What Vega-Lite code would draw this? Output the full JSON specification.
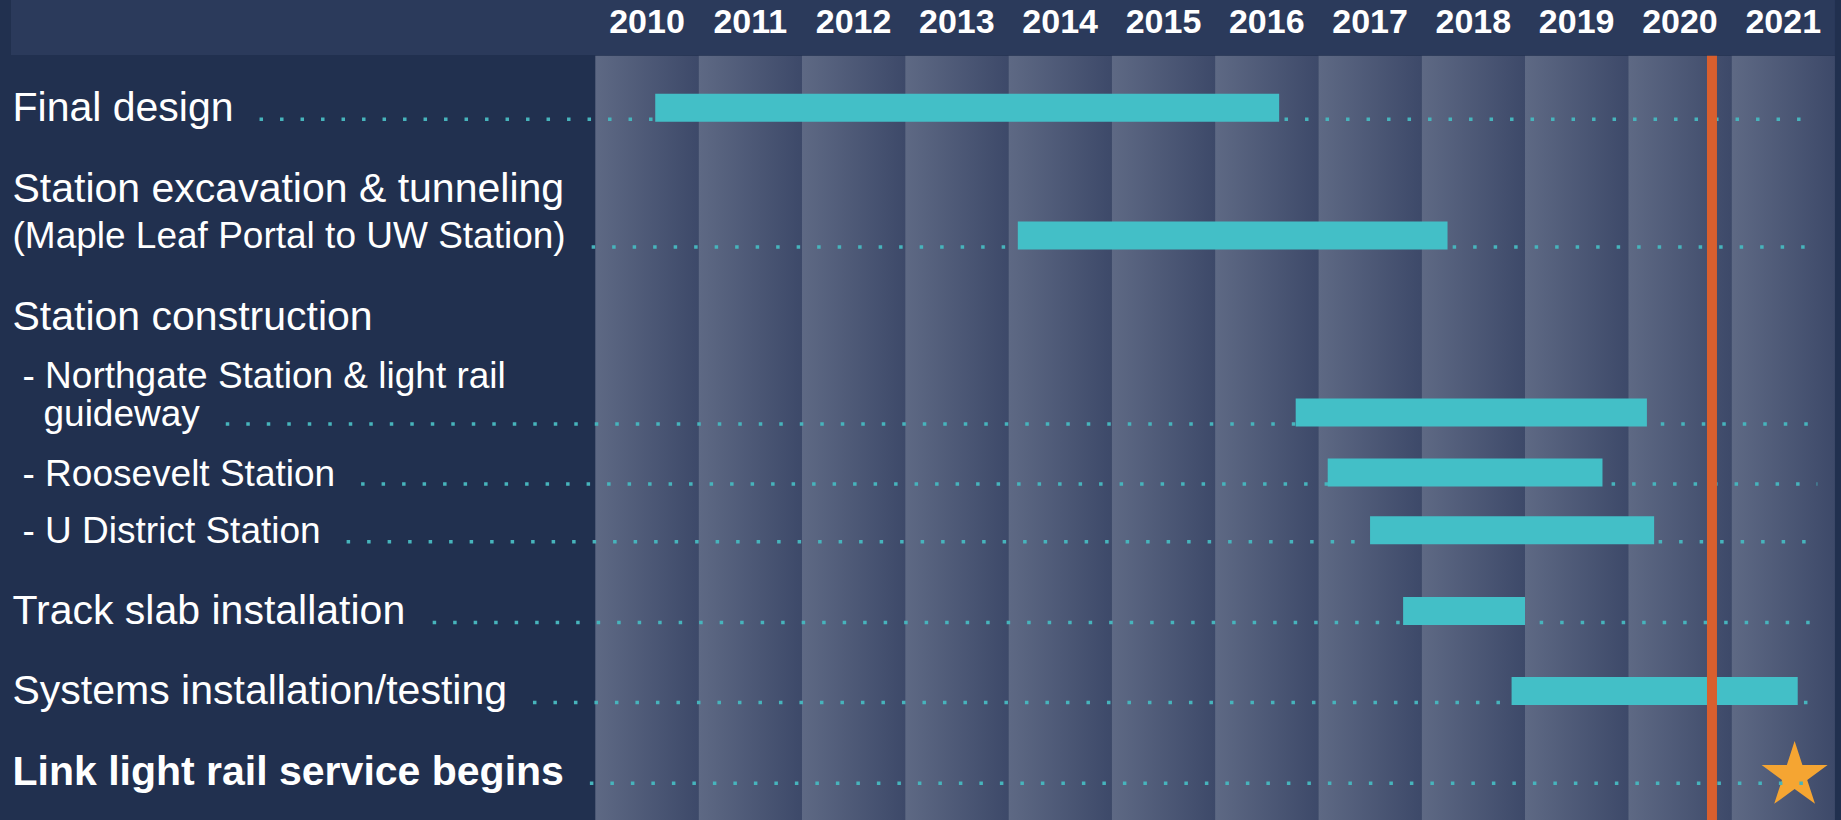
{
  "$schema": "https://vega.github.io/schema/vega-lite/v6.json",
  "width": 1841,
  "height": 820,
  "padding": 0,
  "autosize": {"type": "none"},
  "background": "#21304f",
  "config": {"view": {"stroke": null}},
  "datasets": {
    "years": [
      {"year": "2010", "start": 2010, "end": 2011},
      {"year": "2011", "start": 2011, "end": 2012},
      {"year": "2012", "start": 2012, "end": 2013},
      {"year": "2013", "start": 2013, "end": 2014},
      {"year": "2014", "start": 2014, "end": 2015},
      {"year": "2015", "start": 2015, "end": 2016},
      {"year": "2016", "start": 2016, "end": 2017},
      {"year": "2017", "start": 2017, "end": 2018},
      {"year": "2018", "start": 2018, "end": 2019},
      {"year": "2019", "start": 2019, "end": 2020},
      {"year": "2020", "start": 2020, "end": 2021},
      {"year": "2021", "start": 2021, "end": 2022}
    ],
    "labels": [
      {"label": "Final design", "row": 1.51, "kind": "title", "leader": true},
      {"label": "Station excavation & tunneling", "row": 2.525, "kind": "title", "leader": false},
      {"label": "(Maple Leaf Portal to UW Station)", "row": 3.105, "kind": "note", "leader": true},
      {"label": "Station construction", "row": 4.125, "kind": "title", "leader": false},
      {"label": "- Northgate Station & light rail", "row": 4.85, "kind": "item", "leader": false},
      {"label": "guideway", "row": 5.32, "kind": "cont", "leader": true},
      {"label": "- Roosevelt Station", "row": 6.07, "kind": "item", "leader": true},
      {"label": "- U District Station", "row": 6.79, "kind": "item", "leader": true},
      {"label": "Track slab installation", "row": 7.8, "kind": "title", "leader": true},
      {"label": "Systems installation/testing", "row": 8.8, "kind": "title", "leader": true},
      {"label": "Link light rail service begins", "row": 9.81, "kind": "title", "leader": true}
    ],
    "tasks": [
      {"task": "Final design", "start": 2010.58, "end": 2016.62, "row": 1.51},
      {"task": "Station excavation & tunneling", "start": 2014.09, "end": 2018.25, "row": 3.105},
      {"task": "Northgate Station & light rail guideway", "start": 2016.78, "end": 2020.18, "row": 5.32},
      {"task": "Roosevelt Station", "start": 2017.09, "end": 2019.75, "row": 6.07},
      {"task": "U District Station", "start": 2017.5, "end": 2020.25, "row": 6.79},
      {"task": "Track slab installation", "start": 2017.82, "end": 2019.0, "row": 7.8},
      {"task": "Systems installation/testing", "start": 2018.87, "end": 2021.64, "row": 8.8}
    ],
    "milestones": [
      {"milestone": "Link light rail service begins", "date": 2021.61, "row": 9.81}
    ],
    "today": [
      {"date": 2020.81}
    ]
  },
  "layer": [
    {
      "data": {"values": [{"band": "header"}]},
      "mark": {"type": "rect", "color": "#2b3a5b"},
      "encoding": {
        "x": {"datum": 2004.343, "type": "quantitative", "scale": {"domain": [2004.237, 2022.059], "nice": false, "zero": false, "padding": 0}, "axis": null},
        "x2": {"datum": 2022.0},
        "y": {"datum": 0, "type": "quantitative", "scale": {"domain": [0, 10.25], "nice": false, "zero": false, "reverse": true, "padding": 0}, "axis": null},
        "y2": {"datum": 0.6875}
      }
    },
    {
      "data": {"name": "years"},
      "mark": {
        "type": "rect",
        "color": {
          "gradient": "linear", "x1": 0, "x2": 1, "y1": 0, "y2": 0,
          "stops": [{"offset": 0, "color": "#5e6984"}, {"offset": 1, "color": "#3d4969"}]
        }
      },
      "encoding": {
        "x": {"field": "start", "type": "quantitative", "axis": null},
        "x2": {"field": "end"},
        "y": {"datum": 0.6975, "type": "quantitative", "axis": null},
        "y2": {"datum": 10.25}
      }
    },
    {
      "data": {"name": "years"},
      "mark": {"type": "text", "font": "Liberation Sans", "fontWeight": "bold", "fontSize": 34, "color": "#ffffff", "align": "center", "baseline": "alphabetic", "xOffset": 51.65},
      "encoding": {
        "x": {"field": "start", "type": "quantitative", "axis": null},
        "y": {"datum": 0.416, "type": "quantitative", "axis": null},
        "text": {"field": "year"}
      }
    },
    {
      "data": {"name": "milestones"},
      "mark": {
        "type": "point",
        "shape": "M0,-1L0.2245,-0.309L0.951,-0.309L0.3633,0.118L0.5878,0.809L0,0.382L-0.5878,0.809L-0.3633,0.118L-0.951,-0.309L-0.2245,-0.309Z",
        "size": 4816, "filled": true, "color": "#f5a532", "opacity": 1, "strokeWidth": 0, "yOffset": -9
      },
      "encoding": {
        "x": {"field": "date", "type": "quantitative", "axis": null},
        "y": {"field": "row", "type": "quantitative", "axis": null}
      }
    },
    {
      "data": {"name": "labels"},
      "transform": [
        {"filter": "datum.leader"},
        {"calculate": "2004.358 + (datum.kind === 'item' ? 0.097 : datum.kind === 'cont' ? 0.3 : 0)", "as": "lx"},
        {"calculate": "datum.lx + ((length(datum.label)*0.556 - length(replace(datum.label, regexp('[^ijl]','g'), ''))*0.334 - length(replace(datum.label, regexp('[^ft ./I]','g'), ''))*0.278 - length(replace(datum.label, regexp('[^r()-]','g'), ''))*0.223 - length(replace(datum.label, regexp('[^cksvxyz]','g'), ''))*0.056 + length(replace(datum.label, regexp('[^FTZ]','g'), ''))*0.055 + length(replace(datum.label, regexp('[^ABEKPSVXY&]','g'), ''))*0.111 + length(replace(datum.label, regexp('[^CDHNRUw]','g'), ''))*0.166 + length(replace(datum.label, regexp('[^GOQ]','g'), ''))*0.222 + length(replace(datum.label, regexp('[^mM]','g'), ''))*0.277 + length(replace(datum.label, regexp('[^W]','g'), ''))*0.388) * (datum.kind === 'title' ? 41 : 37) * (datum.label === 'Link light rail service begins' ? 1.1 : 1) + 26) / 103.3", "as": "leadStart"}
      ],
      "mark": {"type": "rule", "color": "#47b4bc", "strokeWidth": 3.5, "strokeDash": [3.5, 17], "strokeCap": "butt", "yOffset": -1.5},
      "encoding": {
        "x": {"field": "leadStart", "type": "quantitative", "axis": null},
        "x2": {"datum": 2021.83},
        "y": {"field": "row", "type": "quantitative", "axis": null}
      }
    },
    {
      "data": {"name": "tasks"},
      "mark": {"type": "bar", "orient": "horizontal", "size": 28, "color": "#43bfc7", "yOffset": -13},
      "encoding": {
        "x": {"field": "start", "type": "quantitative", "axis": null},
        "x2": {"field": "end"},
        "y": {"field": "row", "type": "quantitative", "scale": {"padding": 0}, "axis": null}
      }
    },
    {
      "data": {"name": "today"},
      "mark": {"type": "rule", "color": "#d95f2e", "strokeWidth": 10},
      "encoding": {
        "x": {"field": "date", "type": "quantitative", "axis": null},
        "y": {"datum": 0.6975, "type": "quantitative", "axis": null},
        "y2": {"datum": 10.25}
      }
    },
    {
      "data": {"name": "labels"},
      "transform": [
        {"filter": "datum.kind === 'title' && datum.label !== 'Link light rail service begins'"},
        {"calculate": "2004.358", "as": "lx"}
      ],
      "mark": {"type": "text", "font": "Liberation Sans", "fontSize": 41, "color": "#ffffff", "align": "left", "baseline": "alphabetic"},
      "encoding": {
        "x": {"field": "lx", "type": "quantitative", "axis": null},
        "y": {"field": "row", "type": "quantitative", "axis": null},
        "text": {"field": "label"}
      }
    },
    {
      "data": {"name": "labels"},
      "transform": [
        {"filter": "datum.kind !== 'title'"},
        {"calculate": "2004.358 + (datum.kind === 'item' ? 0.097 : datum.kind === 'cont' ? 0.3 : 0)", "as": "lx"}
      ],
      "mark": {"type": "text", "font": "Liberation Sans", "fontSize": 37, "color": "#ffffff", "align": "left", "baseline": "alphabetic"},
      "encoding": {
        "x": {"field": "lx", "type": "quantitative", "axis": null},
        "y": {"field": "row", "type": "quantitative", "axis": null},
        "text": {"field": "label"}
      }
    },
    {
      "data": {"name": "labels"},
      "transform": [
        {"filter": "datum.label === 'Link light rail service begins'"},
        {"calculate": "2004.358", "as": "lx"}
      ],
      "mark": {"type": "text", "font": "Liberation Sans", "fontSize": 41, "fontWeight": "bold", "color": "#ffffff", "align": "left", "baseline": "alphabetic"},
      "encoding": {
        "x": {"field": "lx", "type": "quantitative", "axis": null},
        "y": {"field": "row", "type": "quantitative", "axis": null},
        "text": {"field": "label"}
      }
    }
  ]
}
